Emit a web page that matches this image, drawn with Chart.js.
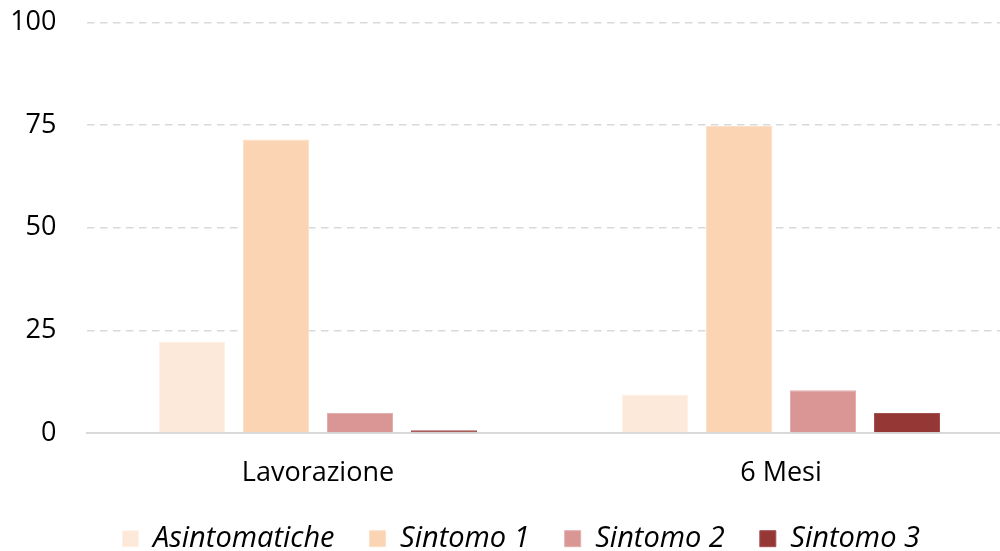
<!DOCTYPE html>
<html>
<head>
<meta charset="utf-8">
<script src="https://cdn.jsdelivr.net/npm/chart.js@4/dist/chart.umd.min.js"></script>
<style>
  html, body { margin: 0; padding: 0; background: #fff; overflow: hidden; }
  #wrap { width: 1000px; height: 551px; overflow: hidden; }
  canvas { display: block; }
</style>
</head>
<body>
<div id="wrap"><canvas id="chart" width="1042" height="551"></canvas></div>
<script>
// Categories and series (percent)
const categories = ['Lavorazione', '6 Mesi'];
const seriesNames = ['Asintomatiche', 'Sintomo 1', 'Sintomo 2', 'Sintomo 3'];
const asintomatiche = [22.3, 9.4];
const sintomo1 = [71.5, 74.8];
const sintomo2 = [4.9, 10.4];
const sintomo3 = [0.7, 4.9];
const yTicks = [0, 25, 50, 75, 100];

const fills = ['#FDE9D9', '#FBD4B4', '#D99694', '#953735'];
const edges = ['#FEF1E8', '#FCE0C9', '#E3AFAE', '#A5514F'];
const values = [asintomatiche, sintomo1, sintomo2, sintomo3];

const datasets = seriesNames.map((name, i) => ({
  label: name,
  data: values[i],
  backgroundColor: fills[i],
  borderColor: edges[i],
  borderWidth: 1,
  categoryPercentage: 0.7257,
  barPercentage: 0.786
}));

const baseFont = "'Open Sans', 'DejaVu Sans', sans-serif";

// Center the legend under the plot area rather than the full canvas
const legendShift = {
  id: 'legendShift',
  afterLayout(chart) {
    const lg = chart.legend;
    if (lg) { lg.left += 11; lg.right += 11; }
  }
};

new Chart(document.getElementById('chart'), {
  type: 'bar',
  data: { labels: categories, datasets },
  plugins: [legendShift],
  options: {
    responsive: false,
    animation: false,
    layout: { padding: { left: 8, right: 29.5, top: 22.5, bottom: -12.2 } },
    plugins: {
      tooltip: { enabled: false },
      legend: {
        position: 'bottom',
        labels: {
          boxWidth: 16,
          boxHeight: 16,
          padding: 35,
          color: '#000',
          font: { family: baseFont, size: 29, style: 'italic' }
        }
      }
    },
    scales: {
      x: {
        grid: { display: false, drawTicks: true, tickLength: 23.8, tickColor: 'rgba(0,0,0,0)' },
        border: { display: true, color: '#D9D9D9', width: 2 },
        ticks: { color: '#000', padding: 0, font: { family: baseFont, size: 27 } }
      },
      y: {
        min: 0,
        max: 100,
        afterBuildTicks: (scale) => { scale.ticks = yTicks.map(v => ({ value: v })); },
        afterFit: (scale) => { scale.width = 78.5; },
        grid: { color: '#D9D9D9', lineWidth: 1.5, drawTicks: true, tickLength: 30, tickColor: 'rgba(0,0,0,0)' },
        border: { display: false, dash: [7.5, 5.5] },
        ticks: { color: '#000', padding: 0, font: { family: baseFont, size: 27 } }
      }
    }
  }
});
</script>
</body>
</html>
